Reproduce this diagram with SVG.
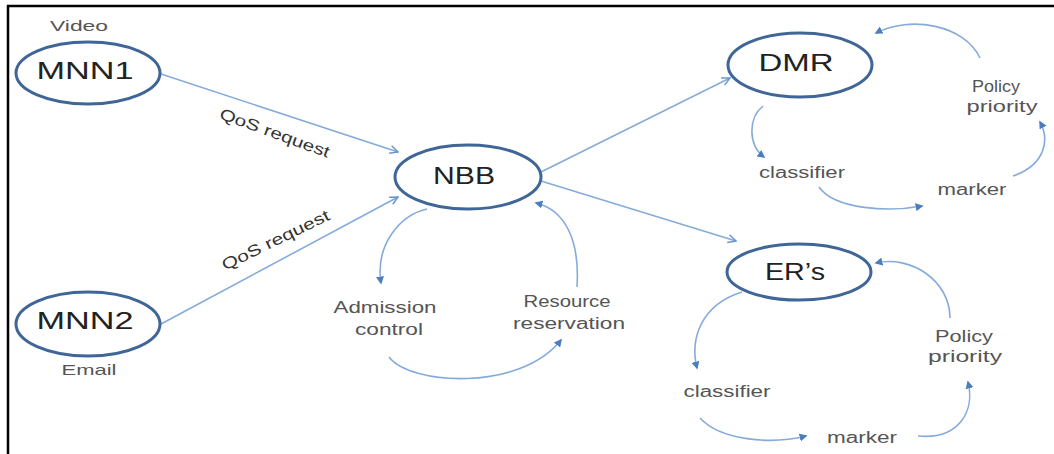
<svg xmlns="http://www.w3.org/2000/svg" width="1054" height="454" viewBox="0 0 1054 454">
<style>
.node{fill:#fff;stroke:#3F6696;stroke-width:3}
.nl{font-family:"Liberation Sans",Arial,sans-serif;font-size:24px;fill:#222;text-anchor:middle}
.lb{font-family:"Liberation Sans",Arial,sans-serif;font-size:16px;fill:#555;text-anchor:middle}
.sm{font-family:"Liberation Sans",Arial,sans-serif;font-size:15px;fill:#555;text-anchor:middle}
.qos{font-family:"Liberation Sans",Arial,sans-serif;font-size:16px;fill:#333;text-anchor:middle}
.ln{fill:none;stroke:#86ABDB;stroke-width:1.6}
.cv{fill:none;stroke:#86ABDB;stroke-width:1.6}
</style>
<defs>
<marker id="open" viewBox="0 0 10 10" refX="9" refY="5" markerWidth="10" markerHeight="10" markerUnits="userSpaceOnUse" orient="auto">
<path d="M1,1 L9,5 L1,9" fill="none" stroke="#6A97D0" stroke-width="1.5"/>
</marker>
<marker id="fill" viewBox="0 0 10 10" refX="8" refY="5" markerWidth="8" markerHeight="8" markerUnits="userSpaceOnUse" orient="auto">
<path d="M0,0 L10,5 L0,10 Z" fill="#4A7EBF"/>
</marker>
</defs>
<rect width="1054" height="454" fill="#fff"/>
<path d="M7,6 H1054 M8,5 V454" stroke="#000" stroke-width="2.5" fill="none"/>

<g id="connectors">
<path class="ln" d="M161,74 L398,152" marker-end="url(#open)"/>
<path class="ln" d="M161,324 L398,197" marker-end="url(#open)"/>
<path class="ln" d="M541,172 L730,78" marker-end="url(#open)"/>
<path class="ln" d="M541,181 L736,241" marker-end="url(#open)"/>
<path class="cv" d="M427,209 C400,215 375,245 381,283" marker-end="url(#fill)"/>
<path class="cv" d="M389,357 C410,385 520,392 561,340" marker-end="url(#fill)"/>
<path class="cv" d="M577,287 C580,240 565,210 536,203" marker-end="url(#fill)"/>
<path class="cv" d="M763,106 C748,118 748,145 764,157" marker-end="url(#fill)"/>
<path class="cv" d="M819,187 C835,210 890,212 922,206" marker-end="url(#fill)"/>
<path class="cv" d="M1013,176 C1045,165 1050,140 1040,122" marker-end="url(#fill)"/>
<path class="cv" d="M980,58 C965,25 910,15 876,33" marker-end="url(#fill)"/>
<path class="cv" d="M742,292 C700,305 690,340 697,368" marker-end="url(#fill)"/>
<path class="cv" d="M700,418 C720,440 770,445 806,436" marker-end="url(#fill)"/>
<path class="cv" d="M918,436 C960,440 975,410 968,382" marker-end="url(#fill)"/>
<path class="cv" d="M950,318 C950,280 910,255 876,263" marker-end="url(#fill)"/>
<text class="qos" transform="translate(273,138) rotate(20)" textLength="116" lengthAdjust="spacingAndGlyphs">QoS request</text>
<text class="qos" transform="translate(278,245) rotate(-26)" textLength="118" lengthAdjust="spacingAndGlyphs">QoS request</text>
</g>

<g id="MNN1">
<ellipse class="node" cx="88" cy="73" rx="72" ry="31"/>
<text class="nl" x="85" y="79" textLength="97" lengthAdjust="spacingAndGlyphs">MNN1</text>
<text class="sm" x="79" y="31" textLength="58" lengthAdjust="spacingAndGlyphs">Video</text>
</g>
<g id="MNN2">
<ellipse class="node" cx="88" cy="324" rx="72" ry="32"/>
<text class="nl" x="85" y="329" textLength="97" lengthAdjust="spacingAndGlyphs">MNN2</text>
<text class="sm" x="89" y="375" textLength="55" lengthAdjust="spacingAndGlyphs">Email</text>
</g>
<g id="NBB">
<ellipse class="node" cx="468" cy="177" rx="73" ry="32"/>
<text class="nl" x="464" y="184" textLength="62" lengthAdjust="spacingAndGlyphs">NBB</text>
</g>
<g id="admission">
<text class="lb" x="385" y="313" textLength="103" lengthAdjust="spacingAndGlyphs">Admission</text>
<text class="lb" x="389" y="335" textLength="68" lengthAdjust="spacingAndGlyphs">control</text>
</g>
<g id="resource">
<text class="lb" x="567" y="307" textLength="87" lengthAdjust="spacingAndGlyphs">Resource</text>
<text class="lb" x="569" y="329" textLength="112" lengthAdjust="spacingAndGlyphs">reservation</text>
</g>
<g id="DMR">
<ellipse class="node" cx="800" cy="65" rx="72" ry="32"/>
<text class="nl" x="796" y="71" textLength="75" lengthAdjust="spacingAndGlyphs">DMR</text>
</g>
<g id="dmr-classifier"><text class="lb" x="802" y="178" textLength="86" lengthAdjust="spacingAndGlyphs">classifier</text></g>
<g id="dmr-marker"><text class="lb" x="972" y="195" textLength="69" lengthAdjust="spacingAndGlyphs">marker</text></g>
<g id="dmr-policy">
<text class="lb" x="996" y="92" textLength="48" lengthAdjust="spacingAndGlyphs">Policy</text>
<text class="lb" x="1002" y="112" textLength="71" lengthAdjust="spacingAndGlyphs">priority</text>
</g>
<g id="ERs">
<ellipse class="node" cx="799" cy="272" rx="72" ry="28"/>
<text class="nl" x="795" y="280" textLength="60" lengthAdjust="spacingAndGlyphs">ER’s</text>
</g>
<g id="er-classifier"><text class="lb" x="727" y="397" textLength="87" lengthAdjust="spacingAndGlyphs">classifier</text></g>
<g id="er-marker"><text class="lb" x="862" y="443" textLength="70" lengthAdjust="spacingAndGlyphs">marker</text></g>
<g id="er-policy">
<text class="lb" x="964" y="342" textLength="58" lengthAdjust="spacingAndGlyphs">Policy</text>
<text class="lb" x="965" y="362" textLength="74" lengthAdjust="spacingAndGlyphs">priority</text>
</g>
</svg>
